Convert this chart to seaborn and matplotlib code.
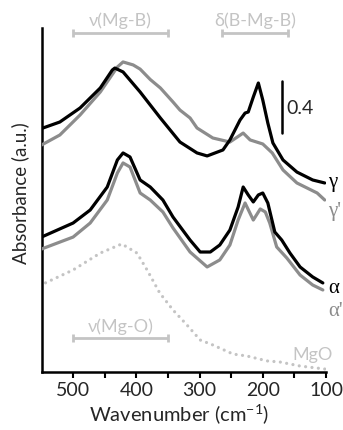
import matplotlib
matplotlib.use("Agg")
import matplotlib.pyplot as plt
import seaborn as sns
import numpy as np

# ---- data ----
wn_gamma = [550, 521, 489, 457, 438, 434, 421, 394, 362, 331, 304, 288, 263, 252, 236, 228, 223, 215, 207, 200, 192, 184, 168, 146, 121, 102]
ab_gamma = [1.873, 1.923, 2.031, 2.185, 2.323, 2.338, 2.308, 2.154, 1.954, 1.769, 1.685, 1.662, 1.708, 1.785, 1.938, 1.992, 2.000, 2.115, 2.223, 2.092, 1.915, 1.762, 1.631, 1.538, 1.477, 1.454]

wn_gamma_p = [550, 521, 489, 457, 430, 421, 405, 394, 378, 362, 342, 331, 315, 304, 279, 252, 231, 220, 200, 185, 168, 146, 114, 102]
ab_gamma_p = [1.746, 1.823, 1.977, 2.154, 2.346, 2.385, 2.362, 2.330, 2.250, 2.185, 2.077, 2.015, 1.954, 1.877, 1.800, 1.769, 1.838, 1.785, 1.754, 1.685, 1.554, 1.454, 1.377, 1.323]

wn_alpha = [550, 500, 473, 446, 430, 421, 410, 394, 378, 358, 342, 315, 299, 283, 268, 252, 239, 231, 223, 215, 207, 200, 192, 181, 170, 157, 141, 121, 105]
ab_alpha = [1.038, 1.146, 1.246, 1.423, 1.631, 1.685, 1.654, 1.477, 1.423, 1.323, 1.192, 1.015, 0.923, 0.923, 0.977, 1.092, 1.269, 1.423, 1.362, 1.308, 1.362, 1.377, 1.300, 1.077, 1.015, 0.915, 0.808, 0.731, 0.685]

wn_alpha_p = [550, 500, 473, 446, 430, 421, 410, 394, 378, 358, 342, 315, 288, 268, 252, 239, 228, 215, 204, 196, 189, 178, 162, 141, 121, 105]
ab_alpha_p = [0.946, 1.038, 1.146, 1.323, 1.531, 1.608, 1.577, 1.377, 1.323, 1.231, 1.108, 0.923, 0.808, 0.862, 0.977, 1.169, 1.300, 1.169, 1.254, 1.231, 1.146, 0.962, 0.877, 0.746, 0.669, 0.631]

wn_mgo = [544, 500, 457, 423, 399, 383, 363, 342, 320, 299, 279, 247, 225, 193, 173, 141, 102]
ab_mgo = [0.685, 0.785, 0.915, 0.985, 0.915, 0.785, 0.608, 0.477, 0.362, 0.246, 0.208, 0.138, 0.123, 0.085, 0.077, 0.046, 0.023]

x_ticks = [500, 400, 300, 200, 100]
band_labels = ["\u03bd(Mg-B)", "\u03b4(B-Mg-B)", "\u03bd(Mg-O)"]
band_ranges = [(500, 350), (265, 160), (500, 350)]

# ---- style ----
sns.set_theme(style="white")
plt.rcParams['font.family'] = ['Lato', 'DejaVu Sans']
plt.rcParams['mathtext.fontset'] = 'custom'
plt.rcParams['mathtext.rm'] = 'Lato'

BLACK = "#000000"
GRAY = "#8c8c8c"
LIGHT = "#c4c4c4"
TXT = "#262626"

fig = plt.figure(figsize=(3.43, 4.30), dpi=100)
ax = fig.add_axes([41.5/343, 58/430, (326-41.5)/343, (372-28)/430])

lw = 2.3
sns.lineplot(x=wn_gamma, y=ab_gamma, ax=ax, color=BLACK, lw=lw, zorder=4)
sns.lineplot(x=wn_gamma_p, y=ab_gamma_p, ax=ax, color=GRAY, lw=lw, zorder=3)
sns.lineplot(x=wn_alpha, y=ab_alpha, ax=ax, color=BLACK, lw=lw, zorder=4)
sns.lineplot(x=wn_alpha_p, y=ab_alpha_p, ax=ax, color=GRAY, lw=lw, zorder=3)
sns.lineplot(x=wn_mgo, y=ab_mgo, ax=ax, color=LIGHT, lw=2.3,
             linestyle=(0, (0.01, 2.0)), dash_capstyle='round', zorder=2)

ax.set_xlim(550, 100)
ax.set_ylim(0, 344/130)

ax.set_xticks(x_ticks)
ax.set_xticks([450, 350, 250, 150], minor=True)
ax.set_yticks([])
ax.tick_params(axis='x', which='both', direction='out', length=4, width=1.5,
               color=BLACK, labelsize=14, pad=3, bottom=True)
ax.tick_params(axis='x', which='minor', labelbottom=False)
for lab in ax.get_xticklabels():
    lab.set_color(TXT)

for s in ['top', 'right']:
    ax.spines[s].set_visible(False)
for s in ['left', 'bottom']:
    ax.spines[s].set_color(BLACK)
    ax.spines[s].set_linewidth(1.8)

ax.set_xlabel("Wavenumber (cm$^{\\mathregular{-1}}$)", fontsize=14.5, color=TXT)
ax.xaxis.set_label_coords(0.483, -0.125)
ax.xaxis.label.set_va('center')
ax.set_ylabel("Absorbance (a.u.)", fontsize=13.5, color=TXT)
ax.yaxis.set_label_coords(-0.0756, 0.52)
ax.yaxis.label.set_va('center')

# band annotations
band_y = [2.608, 2.608, 0.262]
text_y = [2.70, 2.70, 0.352]
for lab, (a, b), yb, yt in zip(band_labels, band_ranges, band_y, text_y):
    mid = (a + b) / 2
    ax.errorbar([mid], [yb], xerr=[[abs(a - b) / 2]], color=LIGHT, lw=2.0,
                capsize=3, capthick=2.0, fmt='none', clip_on=False)
    ax.text(mid, yt, lab, color=LIGHT, fontsize=13, ha='center', va='center',
            clip_on=False)

# scale bar
ax.plot([170, 170], [1.838, 2.238], color=BLACK, lw=1.8)
ax.text(162, 2.03, "0.4", fontsize=14, ha='left', va='center', color=TXT)

# series labels
serif = ['Liberation Serif', 'DejaVu Serif']
ax.text(97, 1.454, "\u03b3", family=serif, fontsize=15, color=BLACK, ha='left', va='center', clip_on=False)
ax.text(97, 1.231, "\u03b3'", family=serif, fontsize=15, color=GRAY, ha='left', va='center', clip_on=False)
ax.text(97, 0.646, "\u03b1", family=serif, fontsize=15, color=BLACK, ha='left', va='center', clip_on=False)
ax.text(97, 0.462, "\u03b1'", family=serif, fontsize=15, color=GRAY, ha='left', va='center', clip_on=False)
ax.text(89, 0.131, "MgO", fontsize=13, color=LIGHT, ha='right', va='center', clip_on=False)

fig.savefig("out.png", dpi=100)
